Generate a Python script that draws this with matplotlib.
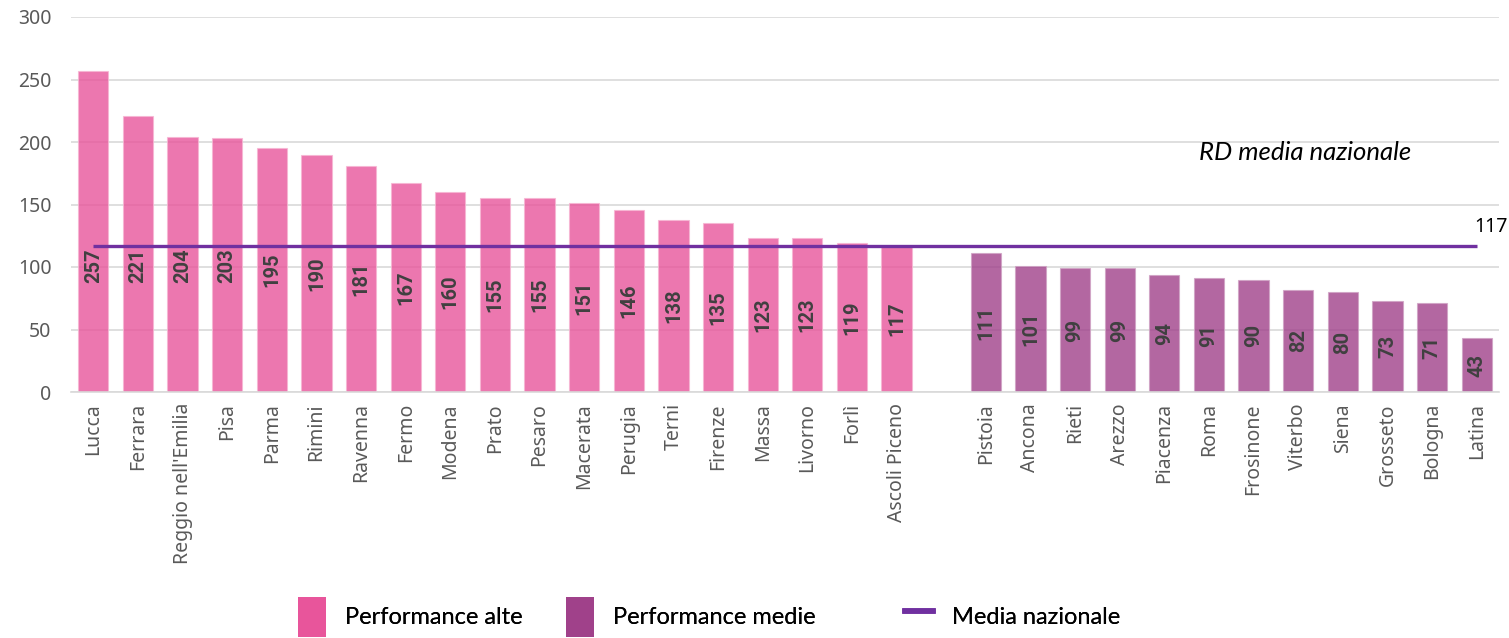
import matplotlib
matplotlib.use("Agg")
import matplotlib.pyplot as plt
from matplotlib.patches import Patch
from matplotlib.lines import Line2D

high_cities = ["Lucca", "Ferrara", "Reggio nell'Emilia", "Pisa", "Parma", "Rimini",
               "Ravenna", "Fermo", "Modena", "Prato", "Pesaro", "Macerata", "Perugia",
               "Terni", "Firenze", "Massa", "Livorno", "Forlì", "Ascoli Piceno"]
high_values = [257, 221, 204, 203, 195, 190, 181, 167, 160, 155, 155, 151, 146,
               138, 135, 123, 123, 119, 117]
mid_cities = ["Pistoia", "Ancona", "Rieti", "Arezzo", "Piacenza", "Roma", "Frosinone",
              "Viterbo", "Siena", "Grosseto", "Bologna", "Latina"]
mid_values = [111, 101, 99, 99, 94, 91, 90, 82, 80, 73, 71, 43]
national_avg = 117
yticks = [0, 50, 100, 150, 200, 250, 300]
legend_labels = ["Performance alte", "Performance medie", "Media nazionale"]

PINK = "#E8559B"
PURPLE = "#A0418A"
LINE = "#7030A0"
SANS = ["Noto Sans", "DejaVu Sans"]
BOLD = ["Roboto", "DejaVu Sans"]
CAL = ["Lato", "DejaVu Sans"]

fig = plt.figure(figsize=(15.09, 6.38), dpi=100)
ax = fig.add_axes([71/1509, 1-392/638, (1499-71)/1509, (392-17)/638])

n_high = len(high_values)
x_high = list(range(n_high))
x_mid = [n_high + 1 + i for i in range(len(mid_values))]
w = 0.68

ax.bar(x_high, high_values, width=w, color=PINK, alpha=0.8, edgecolor="#F7B5D3",
       linewidth=0.8, zorder=2)
ax.bar(x_mid, mid_values, width=w, color=PURPLE, alpha=0.8, edgecolor="#D0A2C4",
       linewidth=0.8, zorder=2)

for xs, vs in ((x_high, high_values), (x_mid, mid_values)):
    for x, v in zip(xs, vs):
        ax.text(x, min(v / 2, 101), str(v), rotation=90, ha="center", va="center",
                fontsize=14.5, fontweight="bold", color="#404040", family=BOLD, zorder=4)

x0, x1 = x_high[0], x_mid[-1]
ax.plot([x0, x1], [national_avg, national_avg], color=LINE, lw=2.4, zorder=3,
        solid_capstyle="butt")
ax.text(x1 - 0.05, national_avg + 7, str(national_avg), ha="left", va="bottom",
        fontsize=14, color="#000000", family=SANS)
ax.text(27.15, 192, "RD media nazionale", ha="center", va="center",
        fontsize=18.5, style="italic", color="#000000", family=CAL)

ax.set_xlim(-0.5, x_mid[-1] + 0.5)
ax.set_ylim(0, 300)
ax.set_yticks(yticks)
ax.set_yticklabels([str(t) for t in yticks])
ax.set_xticks(x_high + x_mid)
ax.set_xticklabels(high_cities + mid_cities, rotation=90)
for lab in ax.get_xticklabels():
    lab.set_family(SANS)
    lab.set_fontsize(14)
    lab.set_color("#595959")
for lab in ax.get_yticklabels():
    lab.set_family(SANS)
    lab.set_fontsize(14)
    lab.set_color("#595959")
ax.tick_params(axis="both", length=0)
ax.tick_params(axis="x", pad=8)
ax.tick_params(axis="y", pad=14)
ax.grid(axis="y", color="#D9D9D9", lw=1.2, zorder=0)
ax.set_axisbelow(True)
for s in ["top", "right", "left"]:
    ax.spines[s].set_visible(False)
ax.spines["bottom"].set_color("#D9D9D9")
ax.spines["bottom"].set_linewidth(1.2)

handles = [Patch(facecolor=PINK, edgecolor="none"),
           Patch(facecolor=PURPLE, edgecolor="none"),
           Line2D([0], [0], color=LINE, lw=4)]
legend_x = [298, 566, 905]
for h, lab, lx in zip(handles, legend_labels, legend_x):
    lg = fig.legend([h], [lab], loc="center left",
                    bbox_to_anchor=(lx/1509, 1-617/638), frameon=False,
                    borderpad=0, borderaxespad=0,
                    handlelength=1.2, handleheight=2.2, handletextpad=0.8,
                    prop={"family": CAL, "size": 17})
    fig.add_artist(lg)

fig.savefig("out.png", dpi=100, facecolor="white")
